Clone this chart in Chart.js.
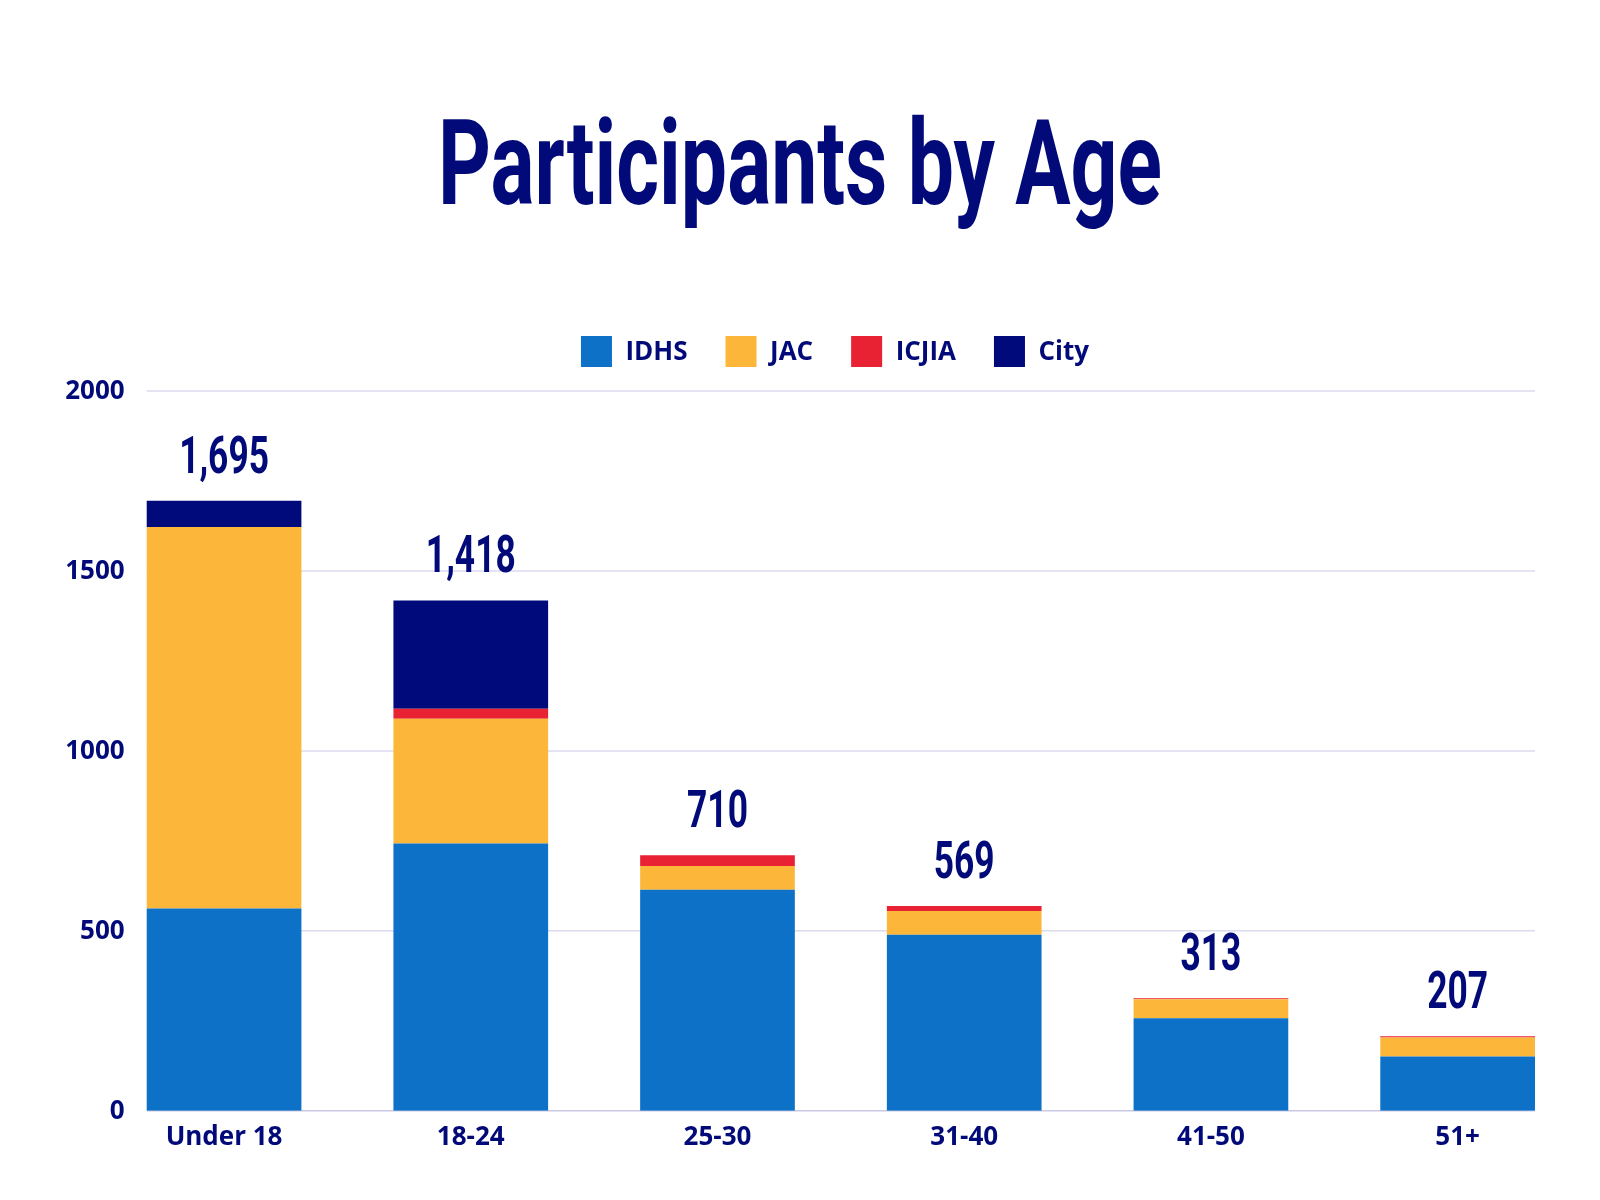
<!DOCTYPE html>
<html>
<head>
<meta charset="utf-8">
<title>Participants by Age</title>
<script src="https://cdn.jsdelivr.net/npm/chart.js@4.4.0/dist/chart.umd.min.js"></script>
<style>
  html, body { margin: 0; padding: 0; background: #fff; }
  #wrap { width: 1600px; height: 1200px; }
</style>
</head>
<body>
<div id="wrap"><canvas id="myChart" width="1600" height="1200"></canvas></div>
<script>
// Data

const categories = ['Under 18', '18-24', '25-30', '31-40', '41-50', '51+'];
const idhs = [562, 743, 614, 489, 257, 151];
const jac = [1060, 346, 66, 66, 53, 53];
const icjia = [0, 28, 30, 14, 3, 3];
const city = [73, 301, 0, 0, 0, 0];
const yTicks = [0, 500, 1000, 1500, 2000];

const titleText = 'Participants by Age';

// Settings

const colors = {
  navy: '#010a78',
  idhs: '#0d71c8',
  jac: '#fcb73b',
  icjia: '#e92233',
  city: '#010a7b',
  grid: '#dadaf0',
  axis: '#c9c9e6',
};

const fonts = {
  label: '"Open Sans", "Noto Sans", sans-serif',
  display: 'Roboto, "Liberation Sans", sans-serif',
};

const totals = categories.map((c, i) => idhs[i] + jac[i] + icjia[i] + city[i]);

// Helpers

function drawCondensed(ctx, text, x, y, font, scaleX) {
  ctx.save();
  ctx.font = font;
  ctx.translate(x, y);
  ctx.scale(scaleX, 1);
  ctx.textAlign = 'center';
  ctx.textBaseline = 'alphabetic';
  ctx.fillStyle = colors.navy;
  ctx.fillText(text, 0, 0);
  ctx.restore();
}

// Plugins

const gridLines = {
  id: 'gridLines',
  beforeDatasetsDraw(chart) {
    const {ctx, scales: {y}} = chart;
    const bars = chart.getDatasetMeta(0).data;
    const first = bars[0];
    const last = bars[bars.length - 1];
    const left = first.x - first.width / 2;
    const right = last.x + last.width / 2;

    ctx.save();
    ctx.lineWidth = 1.5;
    yTicks.forEach(function(v) {
      const py = y.getPixelForValue(v);
      ctx.strokeStyle = v === 0 ? colors.axis : colors.grid;
      ctx.beginPath();
      ctx.moveTo(left, py);
      ctx.lineTo(right, py);
      ctx.stroke();
    });

    // y tick labels, right aligned just left of the first bar
    ctx.font = '700 26px ' + fonts.label;
    ctx.fillStyle = colors.navy;
    ctx.textAlign = 'right';
    ctx.textBaseline = 'middle';
    yTicks.forEach(function(v) {
      ctx.fillText(String(v), left - 22, y.getPixelForValue(v) + 1);
    });
    ctx.restore();
  }
};

const decorations = {
  id: 'decorations',
  afterDraw(chart) {
    const {ctx, scales: {y}} = chart;

    // title
    ctx.save();
    ctx.font = '700 118px ' + fonts.display;
    const tw = ctx.measureText(titleText).width;
    ctx.restore();
    drawCondensed(ctx, titleText, 800, 204, '700 118px ' + fonts.display, 724 / tw);

    // totals above bars
    const bars = chart.getDatasetMeta(0).data;
    totals.forEach(function(t, i) {
      const top = y.getPixelForValue(t);
      drawCondensed(ctx, t.toLocaleString('en-US'), bars[i].x, top - 28, '700 52px ' + fonts.display, 0.68);
    });

    // legend
    const box = 31;
    const gap = 13.5;
    const pad = 38;
    ctx.save();
    ctx.font = '700 26px ' + fonts.label;
    const items = chart.data.datasets.map(function(ds) {
      return {label: ds.label, color: ds.backgroundColor, w: ctx.measureText(ds.label).width};
    });
    const total = items.reduce(function(s, it) { return s + box + gap + it.w; }, 0) + pad * (items.length - 1);
    let x = 835 - total / 2;
    const boxTop = 336;
    ctx.textBaseline = 'middle';
    ctx.textAlign = 'left';
    items.forEach(function(it) {
      ctx.fillStyle = it.color;
      ctx.fillRect(x, boxTop, box, box);
      ctx.fillStyle = colors.navy;
      ctx.fillText(it.label, x + box + gap, boxTop + box / 2 + 1);
      x += box + gap + it.w + pad;
    });
    ctx.restore();
  }
};

// Chart

const ctx = document.getElementById('myChart').getContext('2d');

const chart = new Chart(ctx, {
  type: 'bar',
  data: {
    labels: categories,
    datasets: [
      { label: 'IDHS', data: idhs, backgroundColor: colors.idhs },
      { label: 'JAC', data: jac, backgroundColor: colors.jac },
      { label: 'ICJIA', data: icjia, backgroundColor: colors.icjia },
      { label: 'City', data: city, backgroundColor: colors.city },
    ]
  },
  options: {
    responsive: false,
    animation: false,
    devicePixelRatio: 1,
    layout: {
      padding: { top: 391, right: 19, bottom: 36, left: 0 }
    },
    datasets: {
      bar: { categoryPercentage: 1, barPercentage: 0.627, borderWidth: 0 }
    },
    plugins: {
      legend: { display: false },
      title: { display: false },
      tooltip: { enabled: false },
    },
    scales: {
      x: {
        stacked: true,
        grid: { display: false, drawTicks: false },
        border: { display: false },
        ticks: {
          color: colors.navy,
          padding: 11,
          font: { family: fonts.label, size: 26, weight: '700' },
        }
      },
      y: {
        stacked: true,
        min: 0,
        max: 2000,
        grid: { display: false, drawTicks: false },
        border: { display: false },
        afterFit: function(scale) { scale.width = 100.7; },
        ticks: { display: false, stepSize: 500 }
      }
    }
  },
  plugins: [gridLines, decorations]
});
</script>
</body>
</html>
